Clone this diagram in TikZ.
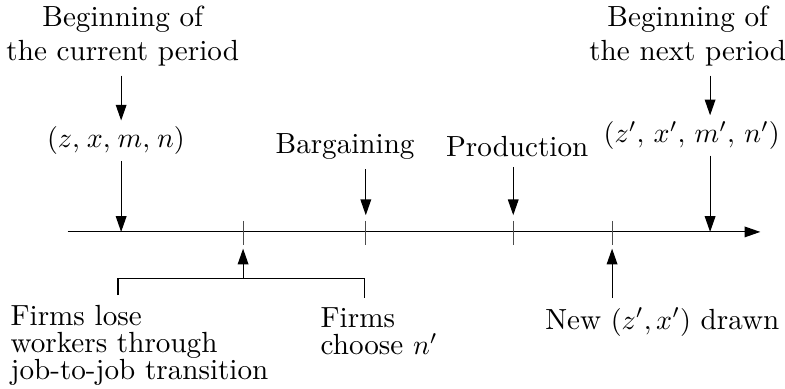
\documentclass[tikz,border=0pt]{standalone}
\usepackage{amsmath}
\usetikzlibrary{calc, arrows.meta}

\tikzset{
    evt/.style = {->, >={Triangle[length = 5.6pt, width = 3.8pt]}},
    state/.style = {inner sep = 2pt},
}

\begin{document}
\begin{tikzpicture}[font = \fontsize{10.4}{12}\selectfont]
            \useasboundingbox (0, 0) rectangle (9.85, 4.87);
            
            \coordinate (origin) at (0.85, 1.96);
            \coordinate (end) at (9.54, 1.96);
            \coordinate (now) at (1.52, 1.96);
            \coordinate (later) at (8.91, 1.96);
            
            \draw[evt](origin) -- (end);
            
            % ticks on the time line
            \foreach \x [count = \i] in {3.05, 4.59, 6.44, 7.68}
            {
                \coordinate (tick\i) at (\x, 1.96);
                \coordinate (up\i) at ($(tick\i) + (0, 0.21)$);
                \coordinate (dn\i) at ($(tick\i) + (0, -0.21)$);
                \draw[black!70] ($(tick\i) + (0, 0.14)$) -- ($(tick\i) + (0, -0.16)$);
            }
            
            \node[align = center] (curtxt) at (1.54, 4.42) {Beginning of\\the current period};
            \node[state] (cur) at (1.455, 3.105) {$(z,\mkern1.5mu x,\mkern1.5mu m,\mkern1.5mu n)$};
            \draw[evt](curtxt.south -| now) -- (cur.north -| now);
            \draw[evt](cur.south -| now) -- (now);
            
            \node[align = center] (nexttxt) at (8.63, 4.42) {Beginning of\\the next period};
            \node[state] (next) at (8.68, 3.17) {$(z',\mkern3mu x',\mkern3mu m',\mkern3mu n')$};
            \draw[evt](nexttxt.south -| later) -- (next.north -| later);
            \draw[evt](next.south -| later) -- (later);
            
            \node (barg) at (4.33, 3.03) {Bargaining};
            \draw[evt](barg.south -| tick2) -- (up2);
            
            \node (prod) at (6.49, 3.03) {Production};
            \draw[evt](prod.south -| tick3) -- (up3);
            
            \node[align = left, anchor = west] (lose) at (0.01, 0.54) {Firms lose\\[-2.4pt]workers through\\[-2.4pt]job-to-job transition};
            \node[align = left, anchor = west] (choose) at (3.90, 0.71) {Firms\\[-2.4pt]choose $n'$};
            
            \coordinate (legL) at (1.48, 1.38);
            \coordinate (legR) at (4.57, 1.38);
            \coordinate (brk) at (3.05, 1.38);
            \draw(lose.north -| legL) -- (legL) -- (legR) -- (choose.north -| legR);
            \draw[evt](brk) -- (dn1);
            
            \node (new) at (8.31, 0.83) {New $(z', x')$ drawn};
            \draw[evt](new.north -| tick4) -- (dn4);
            
        \end{tikzpicture}
\end{document}
